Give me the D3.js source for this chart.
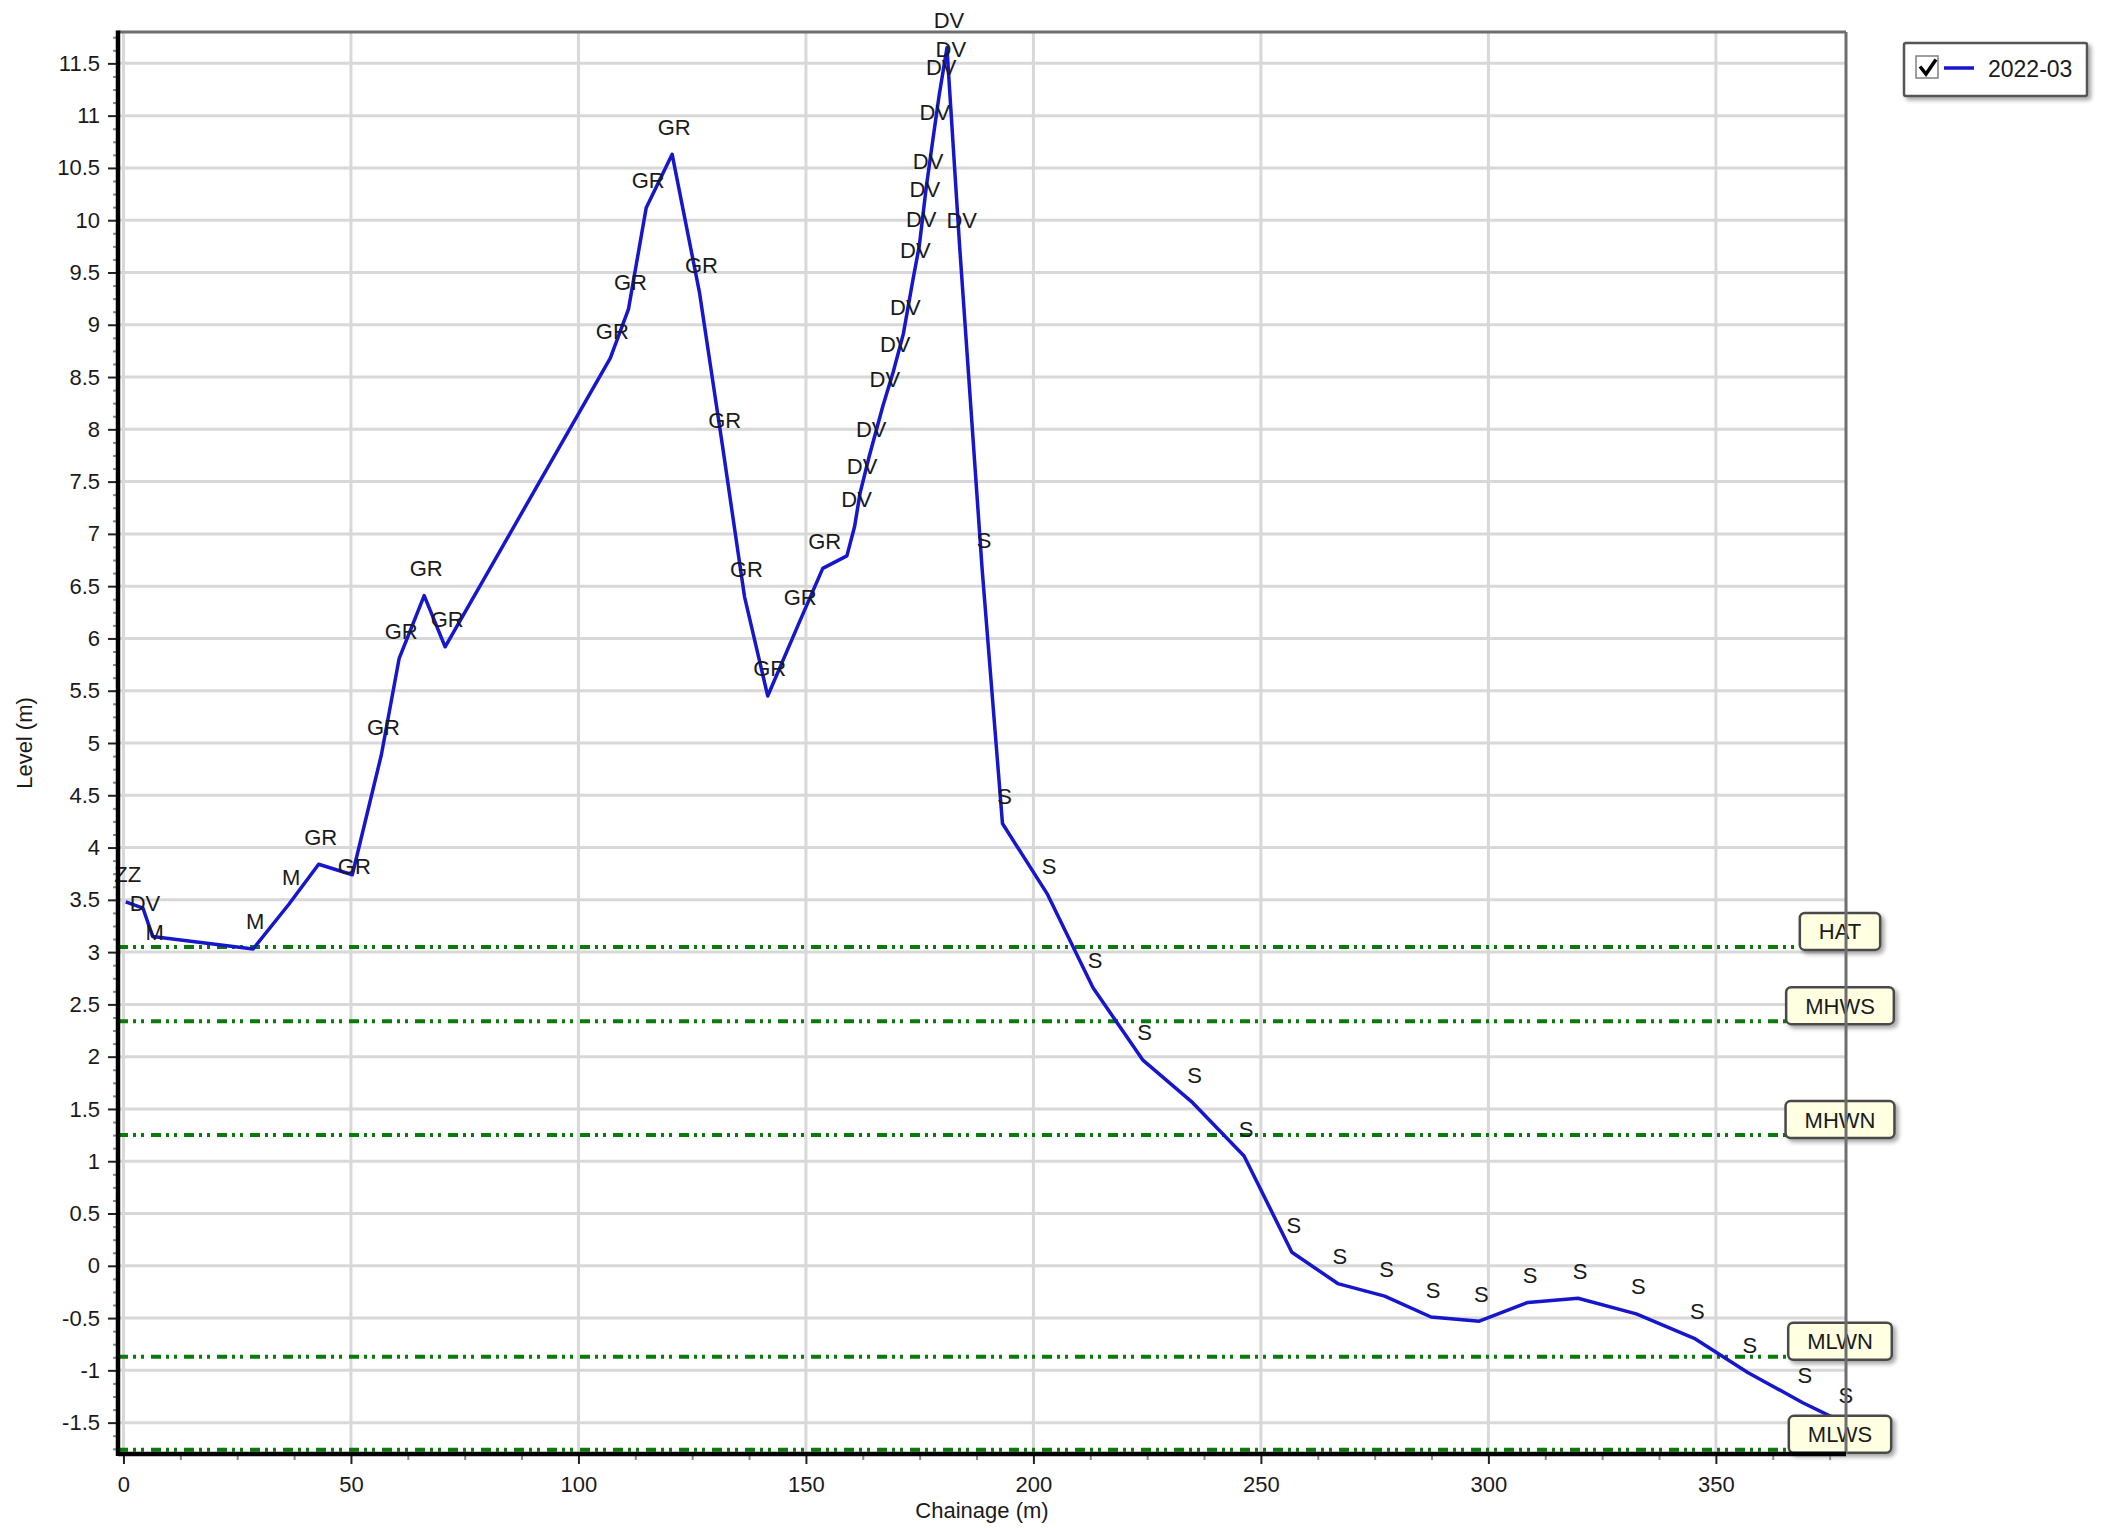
<!DOCTYPE html>
<html>
<head>
<meta charset="utf-8">
<script src="https://cdn.jsdelivr.net/npm/d3@7"></script>
<style>
  body { margin: 0; background: #fff; }
  svg { display: block; }
  text { font-family: "Liberation Sans", Arial, sans-serif; }
</style>
</head>
<body>
<svg id="chart" width="2107" height="1528"></svg>
<script>
// Beach profile survey, 2022-03: chainage (m) against level (m)
const chainage = [0.5, 4.3, 6.4, 28.5, 36.4, 42.9, 50.3, 56.7, 60.6, 66.1,
  70.7, 107.0, 111.0, 114.9, 120.6, 126.6, 131.7, 136.5, 141.6, 148.3,
  153.7, 159.0, 160.7, 161.9, 163.9, 166.9, 169.2, 171.4, 173.6, 174.9,
  175.7, 176.4, 177.9, 179.3, 181.0, 181.4, 183.8, 188.7, 193.2, 203.0,
  213.1, 224.0, 235.0, 246.3, 256.8, 266.9, 277.2, 287.4, 298.0, 308.7,
  319.7, 332.5, 345.5, 357.0, 369.1, 378.1];
const level = [3.48, 3.42, 3.15, 3.03, 3.46, 3.84, 3.74, 4.89, 5.81, 6.41,
  5.92, 8.68, 9.15, 10.12, 10.63, 9.31, 7.83, 6.40, 5.45, 6.13,
  6.67, 6.79, 7.07, 7.39, 7.74, 8.22, 8.55, 8.91, 9.45, 9.75,
  10.04, 10.30, 10.77, 11.20, 11.65, 11.37, 9.74, 6.68, 4.23, 3.56,
  2.66, 1.97, 1.56, 1.05, 0.13, -0.17, -0.29, -0.49, -0.53, -0.35,
  -0.31, -0.46, -0.70, -1.02, -1.31, -1.50];
const featureCodes = ["ZZ", "DV", "M", "M", "M", "GR", "GR", "GR", "GR", "GR",
  "GR", "GR", "GR", "GR", "GR", "GR", "GR", "GR", "GR", "GR",
  "GR", "", "DV", "DV", "DV", "DV", "DV", "DV", "DV", "DV",
  "DV", "DV", "DV", "DV", "DV", "DV", "DV", "S", "S", "S",
  "S", "S", "S", "S", "S", "S", "S", "S", "S", "S",
  "S", "S", "S", "S", "S", "S"];

// Tidal datum levels (m)
const tideNames = ["HAT", "MHWS", "MHWN", "MLWN", "MLWS"];
const tideLevels = [3.05, 2.34, 1.25, -0.87, -1.76];

const xTickValues = [0, 50, 100, 150, 200, 250, 300, 350];
const yTickValues = [-1.5, -1, -0.5, 0, 0.5, 1, 1.5, 2, 2.5, 3, 3.5, 4, 4.5, 5,
  5.5, 6, 6.5, 7, 7.5, 8, 8.5, 9, 9.5, 10, 10.5, 11, 11.5];
const seriesName = "2022-03";

// ---- layout ----
const plot = { left: 118, right: 1846, top: 32, bottom: 1454 };
const lineColor = "#1616cc";
const tideColor = "#0a7a0a";
const textColor = "#1a1a1a";
const fontSize = 22;

const svg = d3.select("#chart");
const defs = svg.append("defs");
const shadow = defs.append("filter").attr("id", "shadow")
  .attr("x", "-20%").attr("y", "-30%").attr("width", "150%").attr("height", "180%");
shadow.append("feDropShadow").attr("dx", 3).attr("dy", 3)
  .attr("stdDeviation", 2).attr("flood-color", "#000").attr("flood-opacity", 0.35);

const x = d3.scaleLinear().domain([-1.2, 378.6]).range([plot.left, plot.right]);
const y = d3.scaleLinear().domain([-1.8, 11.8]).range([plot.bottom, plot.top]);

const points = chainage.map((c, i) => ({ c, l: level[i], code: featureCodes[i] }));

// ---- grid ----
const grid = svg.append("g").attr("stroke", "#d8d8d8").attr("stroke-width", 3);
grid.selectAll("line.h").data(yTickValues).join("line").attr("class", "h")
  .attr("x1", plot.left).attr("x2", plot.right)
  .attr("y1", d => y(d)).attr("y2", d => y(d));
grid.selectAll("line.v").data(xTickValues).join("line").attr("class", "v")
  .attr("y1", plot.top).attr("y2", plot.bottom)
  .attr("x1", d => x(d)).attr("x2", d => x(d));

// ---- tidal datum lines ----
const tideData = tideNames.map((n, i) => ({ name: n, level: tideLevels[i] }));
svg.append("g").selectAll("line").data(tideData).join("line")
  .attr("x1", plot.left).attr("x2", plot.right)
  .attr("y1", d => y(d.level)).attr("y2", d => y(d.level))
  .attr("stroke", tideColor).attr("stroke-width", 4)
  .attr("stroke-dasharray", "10,5,3,5,3,7");

// ---- profile line ----
const line = d3.line().x(d => x(d.c)).y(d => y(d.l));
svg.append("path").datum(points)
  .attr("d", line)
  .attr("fill", "none")
  .attr("stroke", lineColor)
  .attr("stroke-width", 3.5)
  .attr("stroke-linejoin", "round");

// ---- feature code marks (shifted down when they collide with the previous mark) ----
const labelG = svg.append("g").attr("font-size", fontSize).attr("fill", textColor);
let prev = null;
points.forEach(p => {
  if (!p.code) return;
  const t = labelG.append("text").attr("text-anchor", "middle").text(p.code);
  const w = t.node().getComputedTextLength() + 4;
  const cx = x(p.c) + 2;
  let cy = y(p.l) - 27.5;
  if (prev && Math.abs(cx - prev.cx) < (w + prev.w) / 2 && Math.abs(cy - prev.cy) < 24) {
    cy = prev.cy + 29;
  }
  t.attr("x", cx).attr("y", cy + 8);
  prev = { cx, cy, w };
});

// ---- tidal datum tags ----
const tagG = svg.append("g");
tideData.forEach(d => {
  const g = tagG.append("g");
  const ly = y(d.level);
  const t = g.append("text").attr("font-size", fontSize).attr("fill", textColor)
    .attr("text-anchor", "middle").attr("x", 1840).attr("y", ly - 7.5).text(d.name);
  const w = t.node().getComputedTextLength() + 38;
  g.insert("rect", "text")
    .attr("x", 1840 - w / 2).attr("y", ly - 34)
    .attr("width", w).attr("height", 37).attr("rx", 5)
    .attr("fill", "#ffffe1").attr("stroke", "#4a4a4a").attr("stroke-width", 2.5)
    .attr("filter", "url(#shadow)");
});

// ---- axes ----
const yMinor = d3.range(-1.75, 11.8, 0.125).filter(v => Math.abs(v * 2 - Math.round(v * 2)) > 1e-6);
const xMinor = d3.range(0, 378, 12.5).filter(v => v % 50 !== 0);

const yMinorAxis = svg.append("g").attr("transform", `translate(${plot.left},0)`)
  .call(d3.axisLeft(y).tickValues(yMinor).tickSize(5).tickFormat(""));
yMinorAxis.select(".domain").remove();
yMinorAxis.selectAll("line").attr("stroke", "#8a8a8a").attr("stroke-width", 2);

const xMinorAxis = svg.append("g").attr("transform", `translate(0,${plot.bottom})`)
  .call(d3.axisBottom(x).tickValues(xMinor).tickSize(6).tickFormat(""));
xMinorAxis.select(".domain").remove();
xMinorAxis.selectAll("line").attr("stroke", "#8a8a8a").attr("stroke-width", 2);

const yAxis = svg.append("g").attr("transform", `translate(${plot.left},0)`)
  .call(d3.axisLeft(y).tickValues(yTickValues).tickSize(10).tickPadding(8)
    .tickFormat(d => String(d)));
yAxis.select(".domain").remove();
yAxis.selectAll("line").attr("stroke", "#222").attr("stroke-width", 2);
yAxis.selectAll("text").attr("font-size", fontSize).attr("fill", textColor)
  .attr("font-family", '"Liberation Sans", Arial, sans-serif');

const xAxis = svg.append("g").attr("transform", `translate(0,${plot.bottom})`)
  .call(d3.axisBottom(x).tickValues(xTickValues).tickSize(10).tickPadding(12)
    .tickFormat(d => String(d)));
xAxis.select(".domain").remove();
xAxis.selectAll("line").attr("stroke", "#222").attr("stroke-width", 2);
xAxis.selectAll("text").attr("font-size", fontSize).attr("fill", textColor)
  .attr("font-family", '"Liberation Sans", Arial, sans-serif');

// frame: grey top/right, black axis lines left/bottom
svg.append("line").attr("x1", plot.left).attr("x2", plot.right)
  .attr("y1", plot.top).attr("y2", plot.top)
  .attr("stroke", "#6e6e6e").attr("stroke-width", 3);
svg.append("line").attr("x1", plot.right).attr("x2", plot.right)
  .attr("y1", plot.top).attr("y2", plot.bottom)
  .attr("stroke", "#6e6e6e").attr("stroke-width", 3);
svg.append("line").attr("x1", plot.left).attr("x2", plot.left)
  .attr("y1", plot.top - 1.5).attr("y2", plot.bottom + 2)
  .attr("stroke", "#000").attr("stroke-width", 4.5);
svg.append("line").attr("x1", plot.left).attr("x2", plot.right)
  .attr("y1", plot.bottom).attr("y2", plot.bottom)
  .attr("stroke", "#000").attr("stroke-width", 4.5);

// axis titles
svg.append("text").attr("transform", `translate(24,${(plot.top + plot.bottom) / 2}) rotate(-90)`)
  .attr("text-anchor", "middle").attr("dy", "0.35em")
  .attr("font-size", fontSize).attr("fill", textColor).text("Level (m)");
svg.append("text").attr("x", (plot.left + plot.right) / 2).attr("y", 1518)
  .attr("text-anchor", "middle")
  .attr("font-size", fontSize).attr("fill", textColor).text("Chainage (m)");

// ---- legend ----
const legend = svg.append("g");
legend.append("rect").attr("x", 1904).attr("y", 43).attr("width", 183).attr("height", 53)
  .attr("rx", 2).attr("fill", "#fff").attr("stroke", "#555").attr("stroke-width", 2.5)
  .attr("filter", "url(#shadow)");
legend.append("rect").attr("x", 1916).attr("y", 56).attr("width", 22).attr("height", 22)
  .attr("fill", "#fff").attr("stroke", "#808080").attr("stroke-width", 1.5);
legend.append("path").attr("d", "M1920,66.5 L1926,74 L1936,59.5")
  .attr("fill", "none").attr("stroke", "#000").attr("stroke-width", 3.5);
legend.append("line").attr("x1", 1944).attr("x2", 1974).attr("y1", 68).attr("y2", 68)
  .attr("stroke", lineColor).attr("stroke-width", 3.5);
legend.append("text").attr("x", 1988).attr("y", 77)
  .attr("font-size", 23).attr("fill", textColor).text(seriesName);
</script>
</body>
</html>
